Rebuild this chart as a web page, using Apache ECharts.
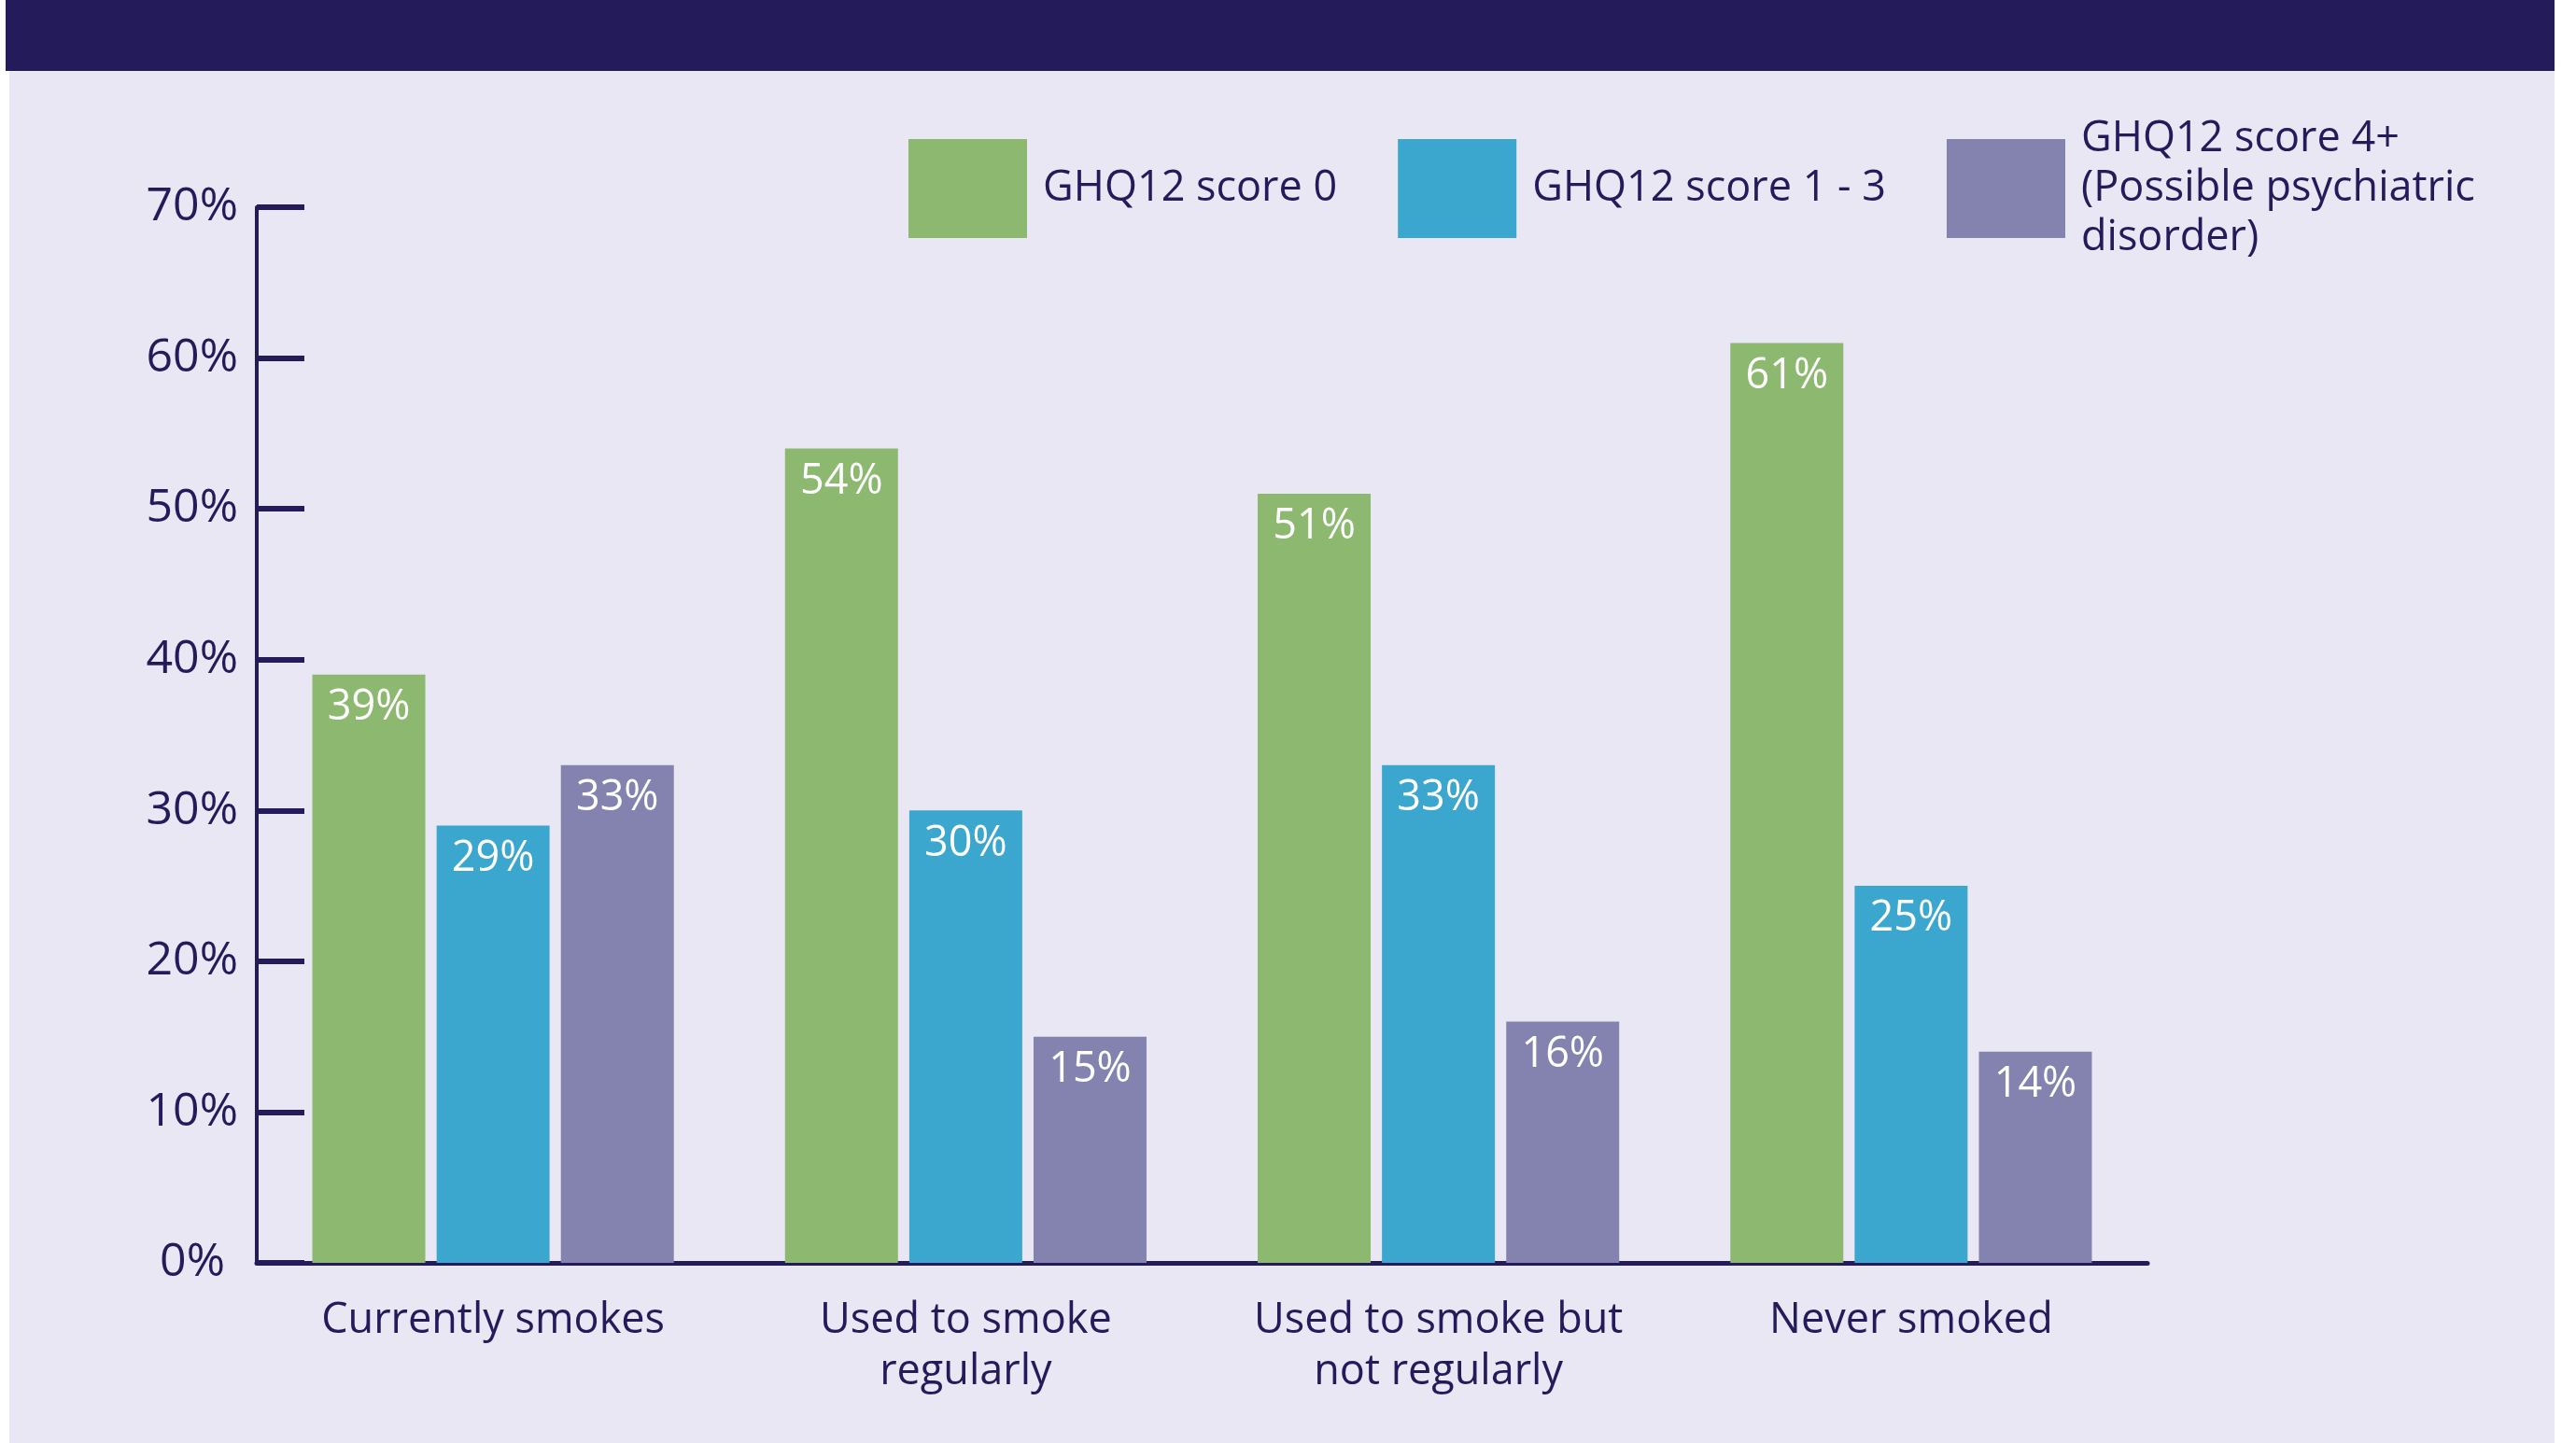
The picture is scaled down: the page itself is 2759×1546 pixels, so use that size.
<!DOCTYPE html>
<html>
<head>
<meta charset="utf-8">
<title>GHQ12 score by smoking status</title>
<script src="https://cdn.jsdelivr.net/npm/echarts@6/dist/echarts.min.js"></script>
<style>
  html, body {
    margin: 0;
    padding: 0;
    background: #ffffff;
  }
  .page {
    position: relative;
    width: 2759px;
    height: 1546px;
    overflow: hidden;
  }
  .band {
    position: absolute;
    left: 6px;
    top: 0;
    width: 2730px;
    height: 76px;
    background: #241b5b;
  }
  .panel {
    position: absolute;
    left: 10px;
    top: 76px;
    width: 2726px;
    height: 1470px;
    background: #e9e7f4;
  }
  #chart {
    position: absolute;
    left: 0;
    top: 0;
    width: 2759px;
    height: 1546px;
  }
</style>
</head>
<body>
<div class="page">
  <div class="band"></div>
  <div class="panel"></div>
  <div id="chart"></div>
</div>
<script>
// smoking status groups
const categories = ['Currently smokes', 'Used to smoke\nregularly', 'Used to smoke but\nnot regularly', 'Never smoked']
const seriesNames = ['GHQ12 score 0', 'GHQ12 score 1 - 3', 'GHQ12 score 4+\n(Possible psychiatric\ndisorder)']
// percentages per group
const score0 = [39, 54, 51, 61]
const score1to3 = [29, 30, 33, 25]
const score4plus = [33, 15, 16, 14]
const colors = ['#8db870', '#3ca7ce', '#8483b0']

const ink = '#241b5b'
const font = '"Open Sans", "Noto Sans", sans-serif'

const chart = echarts.init(document.getElementById('chart'))

const makeSeries = (name, values, color) => ({
  name,
  type: 'bar',
  data: values,
  barWidth: 121,
  barGap: '10%',
  itemStyle: { color },
  label: {
    show: true,
    position: 'insideTop',
    distance: 13,
    formatter: '{c}%',
    color: '#ffffff',
    fontFamily: font,
    fontSize: 45,
  },
})

chart.setOption({
  animation: false,
  textStyle: { fontFamily: font },
  color: colors,
  legend: {
    left: 973,
    top: 116,
    padding: 0,
    itemWidth: 127,
    itemHeight: 106,
    itemGap: 65,
    icon: 'rect',
    selectedMode: false,
    textStyle: {
      color: ink,
      fontFamily: font,
      fontSize: 45,
      lineHeight: 53,
      padding: [13, 0, 0, 12],
    },
    data: seriesNames,
  },
  grid: {
    left: 275,
    top: 222,
    width: 2025,
    height: 1131,
  },
  xAxis: {
    type: 'category',
    data: categories,
    axisLine: { lineStyle: { color: ink, width: 5 } },
    axisTick: {
      inside: true,
      length: 28,
      lineStyle: { color: ink, width: 5 },
    },
    axisLabel: {
      color: ink,
      fontFamily: font,
      fontSize: 45,
      lineHeight: 55,
      margin: 35,
      interval: 0,
    },
  },
  yAxis: {
    type: 'value',
    min: 0,
    max: 70,
    interval: 10,
    splitLine: { show: false },
    axisLine: { show: true, lineStyle: { color: ink, width: 4 } },
    axisTick: {
      show: true,
      inside: true,
      length: 51,
      lineStyle: { color: ink, width: 6 },
    },
    axisLabel: {
      color: ink,
      fontFamily: font,
      fontSize: 50,
      margin: 20,
      formatter: v => (v === 0 ? '{z|0%}' : v + '%'),
      rich: {
        z: { fontSize: 50, fontFamily: font, color: ink, padding: [0, 14, 0, 0] },
      },
    },
  },
  series: [
    makeSeries(seriesNames[0], score0, colors[0]),
    makeSeries(seriesNames[1], score1to3, colors[1]),
    makeSeries(seriesNames[2], score4plus, colors[2]),
  ],
})

window.addEventListener('resize', () => chart.resize())
</script>
</body>
</html>
